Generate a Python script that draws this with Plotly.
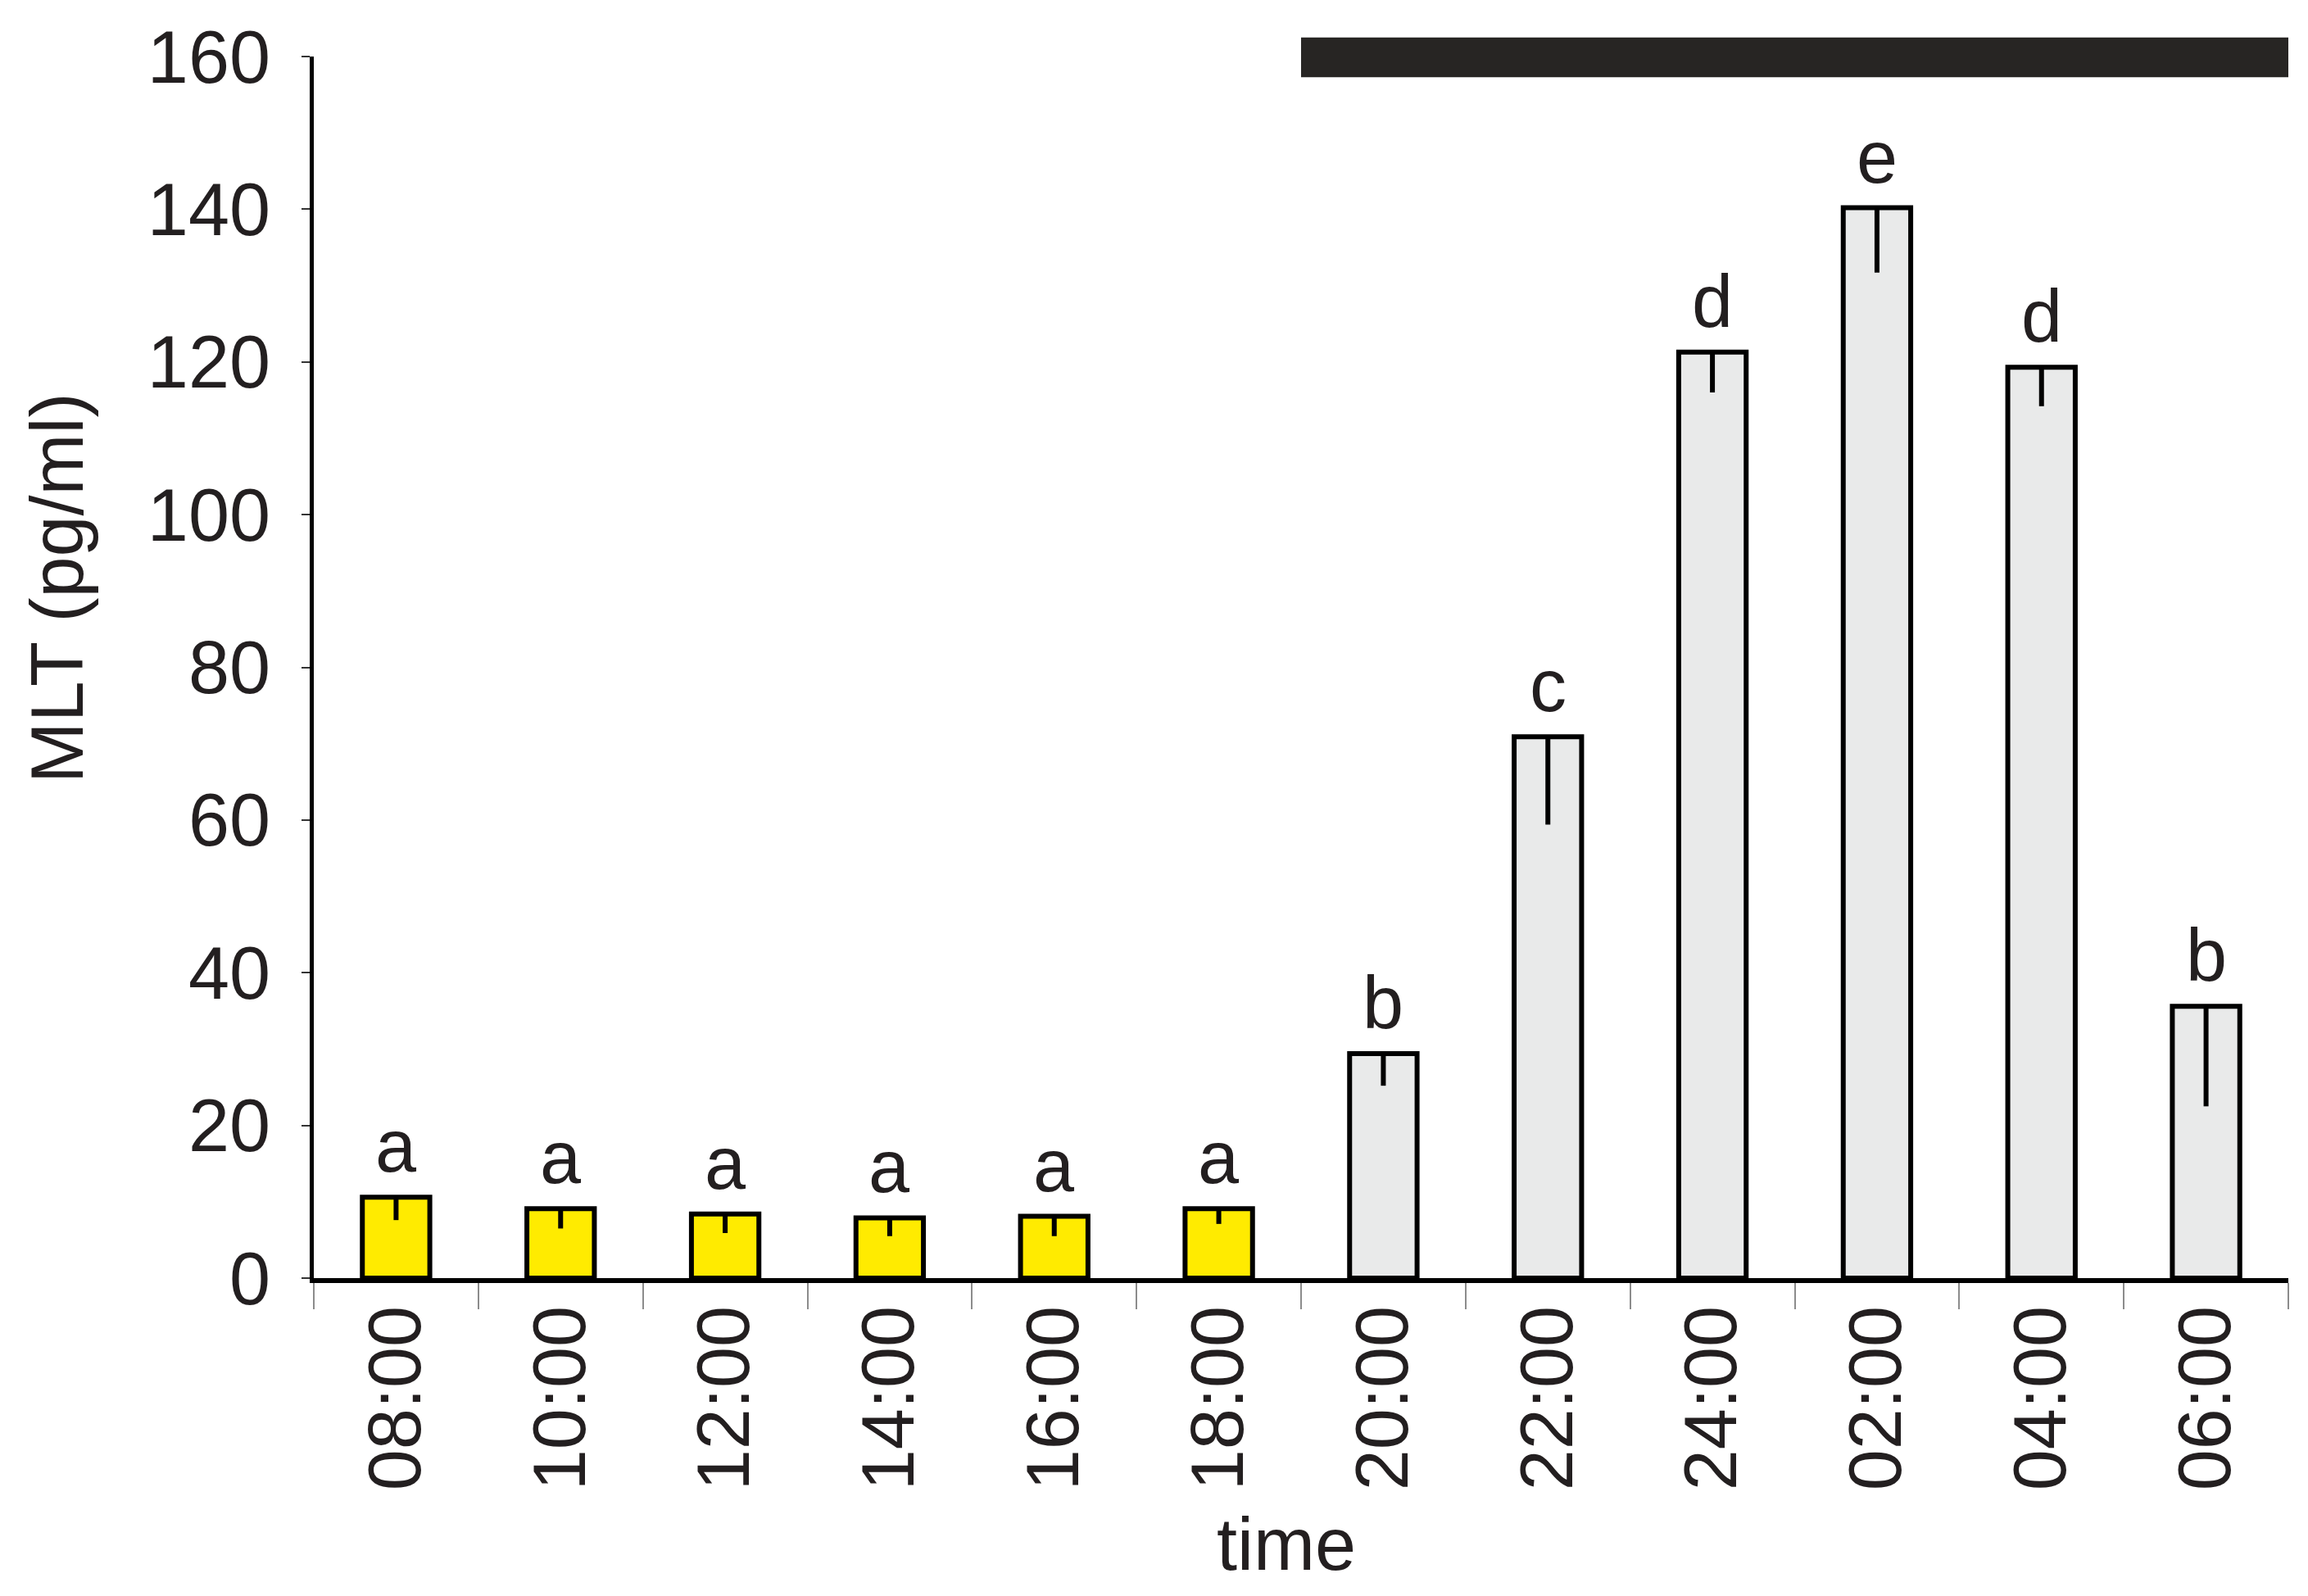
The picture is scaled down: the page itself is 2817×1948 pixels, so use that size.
import plotly.graph_objects as go

# sampling times, mean melatonin and SEM
times = ['08:00', '10:00', '12:00', '14:00', '16:00', '18:00',
         '20:00', '22:00', '24:00', '02:00', '04:00', '06:00']
mlt = [10.6, 9.1, 8.4, 7.9, 8.1, 9.1, 29.4, 70.9, 121.3, 140.2, 119.3, 35.6]
sem = [3.0, 2.6, 2.5, 2.4, 2.6, 2.0, 4.2, 11.5, 5.3, 8.5, 5.1, 13.1]
letters = ['a', 'a', 'a', 'a', 'a', 'a', 'b', 'c', 'd', 'e', 'd', 'b']
n_light = 6  # first six samples in the light phase

# dark phase bar (top of the chart), in data units
dark_band = (157.3, 162.5)
y_max = 160

font = 'Liberation Sans, Arial, sans-serif'
txt = '#231f20'
fsize = 90

fig = go.Figure()

# light phase
fig.add_trace(go.Bar(
    x=times[:n_light], y=mlt[:n_light], width=0.41,
    marker=dict(color='#ffeb00', line=dict(color='black', width=6)),
    error_y=dict(type='data', symmetric=False, array=[0] * n_light,
                 arrayminus=sem[:n_light], width=0, thickness=6, color='black'),
    showlegend=False))

# dark phase
fig.add_trace(go.Bar(
    x=times[n_light:], y=mlt[n_light:], width=0.41,
    marker=dict(color='#e9eaea', line=dict(color='black', width=6)),
    error_y=dict(type='data', symmetric=False, array=[0] * (len(times) - n_light),
                 arrayminus=sem[n_light:], width=0, thickness=6, color='black'),
    showlegend=False))

# significance letters
for t, v, l in zip(times, mlt, letters):
    fig.add_annotation(x=t, y=v, text=l, showarrow=False, yanchor='bottom',
                       yshift=10, font=dict(family=font, size=fsize, color=txt))

# black bar marking darkness
fig.add_shape(type='rect', xref='x', yref='paper',
              x0=n_light - 0.5, x1=len(times) - 0.5,
              y0=dark_band[0] / y_max, y1=dark_band[1] / y_max,
              fillcolor='#272523', line=dict(width=0), layer='above')

# axis titles placed as in the original
fig.add_annotation(text='MLT (pg/ml)', textangle=-90, showarrow=False,
                   xref='paper', yref='paper', x=-0.13, y=0.565,
                   xanchor='center', yanchor='middle',
                   font=dict(family=font, size=fsize, color=txt))
fig.add_annotation(text='time', showarrow=False,
                   xref='paper', yref='paper', x=0.4925, y=-0.218,
                   xanchor='center', yanchor='middle',
                   font=dict(family=font, size=fsize, color=txt))

# page body has an 8px margin, so the figure is a bit smaller than the window
fig.update_layout(
    width=2801, height=1932,
    margin=dict(l=375, r=16, t=61, b=380),
    plot_bgcolor='white', paper_bgcolor='white',
    barmode='overlay',
    font=dict(family=font, size=fsize, color=txt),
)
fig.update_xaxes(
    type='category', categoryorder='array', categoryarray=times,
    tickangle=-90, tickson='boundaries', ticks='outside', ticklen=32,
    tickwidth=2, tickcolor='#8c8c8c', ticklabelstandoff=-8,
    showline=True, linecolor='black', linewidth=6,
    showgrid=False, zeroline=False,
    tickfont=dict(family=font, size=fsize, color=txt),
)
fig.update_yaxes(
    range=[0, y_max], dtick=20, ticks='outside', ticklen=10, tickwidth=2,
    tickcolor='#333', ticklabelstandoff=20,
    showline=True, linecolor='black', linewidth=5,
    showgrid=False, zeroline=False,
    tickfont=dict(family=font, size=fsize, color=txt),
)

fig.write_html('out.html')
